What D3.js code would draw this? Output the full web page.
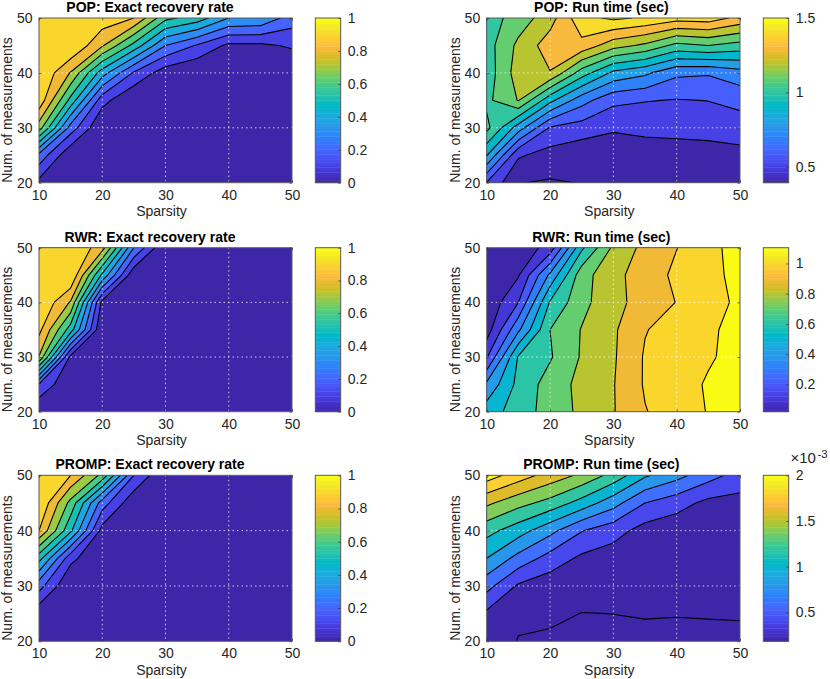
<!DOCTYPE html>
<html><head><meta charset="utf-8">
<script src="https://cdnjs.cloudflare.com/ajax/libs/d3/7.8.5/d3.min.js"></script>
<style>
html,body{margin:0;padding:0;background:#fff}
svg{display:block}
text{font-family:"Liberation Sans",Arial,Helvetica,sans-serif;fill:#262626}
</style></head><body>
<svg id="c" width="830" height="679"></svg>
<script>
const sparsity=[10,15,20,25,30,35,40,45,50];
const measurements=[20,25,30,35,40,45,50];
const xTicks=[10,20,30,40,50];
const yTicks=[20,30,40,50];

// rows: measurements 20..50, columns: sparsity 10..50
const popRate=[
[.07,0,0,0,0,0,0,0,0],
[.27,.012,0,0,0,0,0,0,0],
[.75,.255,0,0,0,0,0,0,0],
[.97,.567,.136,0,0,0,0,0,0],
[1,.793,.447,.187,.042,0,0,0,0],
[1,1,.812,.567,.3,.19,.0775,.08,.114],
[1,1,.96,.9,.625,.555,.4,.385,.25]];
const popTime=[
[.595,.4035,.39,.4035,.42,.425,.43,.43,.44],
[.905,.513,.46,.43,.45,.45,.455,.46,.47],
[1.13,.85,.59,.553,.51,.525,.53,.535,.55],
[1.076,1.205,.93,.74,.625,.605,.595,.602,.63],
[1.042,1.25,1.295,1.05,.875,.82,.72,.71,.76],
[1.057,1.223,1.351,1.37,1.24,1.18,1.07,1.1,1.06],
[1.051,1.145,1.258,1.47,1.518,1.487,1.44,1.45,1.372]];
const rwrRate=[
[0,0,0,0,0,0,0,0,0],
[.195,0,0,0,0,0,0,0,0],
[.795,.07,0,0,0,0,0,0,0],
[.93,.55,0,0,0,0,0,0,0],
[1,.79,.07,0,0,0,0,0,0],
[1,1,.48,.02,0,0,0,0,0],
[1,1,.844,.3,0,0,0,0,0]];
const rwrTime=[
[.55,.647,.743,.822,.894,.995,1.05,1.105,1.14],
[.42,.63,.742,.83,.895,1.01,1.06,1.11,1.15],
[.19,.61,.69,.81,.888,1.01,1.05,1.09,1.13],
[.05,.38,.70,.805,.885,.995,1.04,1.085,1.13],
[.02,.2,.61,.77,.87,.94,1.003,1.06,1.12],
[.02,.09,.42,.76,.87,.95,1.02,1.07,1.13],
[.02,.03,.14,.58,.82,.93,.998,1.07,1.14]];
const prompRate=[
[0,0,0,0,0,0,0,0,0],
[.03,0,0,0,0,0,0,0,0],
[.24,0,0,0,0,0,0,0,0],
[.54,.13,0,0,0,0,0,0,0],
[.9,.52,.06,0,0,0,0,0,0],
[1,.667,.25,.023,0,0,0,0,0],
[1,.9,.67,.2,0,0,0,0,0]];
const prompTime=[
[.28,.195,.18,.18,.18,.18,.18,.18,.18],
[.36,.22,.223,.198,.2005,.205,.203,.205,.207],
[.67,.37,.28,.25,.24,.23,.225,.215,.21],
[1.0,.73,.52,.36,.30,.27,.25,.235,.225],
[1.27,1.09,.86,.61,.48,.32,.27,.26,.26],
[1.64,1.47,1.33,1.12,.88,.6,.48,.347,.33],
[2.1,1.9,1.72,1.56,1.33,1.03,.87,.68,.52]];

const levelsRate=[.1,.2,.3,.4,.5,.6,.7,.8,.9];
const levelsPopTime=[.4,.5,.6,.7,.8,.9,1,1.1,1.2,1.3,1.4,1.5];
const levelsRwrTime=[.1,.2,.3,.4,.5,.6,.7,.8,.9,1,1.1];
const levelsPrompTime=[.2,.4,.6,.8,1,1.2,1.4,1.6,1.8,2];

const ticksRate=[0,.2,.4,.6,.8,1];
const ticksPopTime=[.5,1,1.5];
const ticksRwrTime=[.2,.4,.6,.8,1];
const ticksPrompTime=[.5,1,1.5,2];

const titles=["POP: Exact recovery rate","POP: Run time (sec)","RWR: Exact recovery rate","RWR: Run time (sec)","PROMP: Exact recovery rate","PROMP: Run time (sec)"];
const xLabel="Sparsity", yLabel="Num. of measurements";

const parulaMap=[[.2422,.1504,.6603],[.2504,.165,.7076],[.2578,.1818,.7511],[.2647,.1978,.7952],[.2706,.2147,.8364],[.2751,.2342,.871],[.2783,.2559,.8991],[.2803,.2782,.9221],[.2813,.3006,.9414],[.281,.3228,.9579],[.2795,.3447,.9717],[.276,.3667,.9829],[.2699,.3892,.9906],[.2602,.4123,.9952],[.244,.4358,.9988],[.2206,.4603,.9973],[.1963,.4847,.9892],[.1834,.5074,.9798],[.1786,.5289,.9682],[.1764,.5499,.952],[.1687,.5703,.9359],[.154,.5902,.9218],[.146,.6091,.9079],[.138,.6276,.8973],[.1248,.6459,.8883],[.1113,.6635,.8763],[.0952,.6798,.8598],[.0689,.6948,.8394],[.0297,.7082,.8163],[.0036,.7203,.7917],[.0067,.7312,.766],[.0433,.7411,.7394],[.0964,.75,.712],[.1408,.7584,.6842],[.1717,.767,.6554],[.1938,.7758,.6251],[.2161,.7843,.5923],[.247,.7918,.5567],[.2906,.7973,.5188],[.3406,.8008,.4789],[.3909,.8029,.4354],[.4456,.8024,.3909],[.5044,.7993,.348],[.5616,.7942,.3045],[.6174,.7876,.2612],[.672,.7793,.2227],[.7242,.7698,.191],[.7738,.7598,.1646],[.8203,.7498,.1535],[.8634,.7406,.1596],[.9035,.733,.1774],[.9393,.7288,.21],[.9728,.7298,.2394],[.9956,.7434,.2371],[.997,.7659,.2199],[.9952,.7893,.2028],[.9892,.8136,.1885],[.9786,.8386,.1766],[.9676,.8639,.1643],[.961,.889,.1537],[.9597,.9135,.1423],[.9628,.9373,.1265],[.9691,.9606,.1064],[.9769,.9839,.0805]];
const parula=t=>{const i=Math.max(0,Math.min(63,Math.floor(t*64)));const c=parulaMap[i];return d3.rgb(c[0]*255,c[1]*255,c[2]*255).formatHex();};

const lefts=[39,486.7], rights=[292,740], tops=[18,247.7,475.3], bottoms=[182.7,411.7,641.3];
const cbL=[315.3,763.3], cbR=[340.7,788.7];
const titleOff=[-15.5,-12], axisColor="#5a5a5a";

const panels=[
 {row:0,col:0,z:popRate,levels:levelsRate,dom:[0,1],cbt:ticksRate},
 {row:0,col:1,z:popTime,levels:levelsPopTime,dom:[.393,1.5],cbt:ticksPopTime},
 {row:1,col:0,z:rwrRate,levels:levelsRate,dom:[0,1],cbt:ticksRate},
 {row:1,col:1,z:rwrTime,levels:levelsRwrTime,dom:[.02,1.104],cbt:ticksRwrTime},
 {row:2,col:0,z:prompRate,levels:levelsRate,dom:[0,1],cbt:ticksRate},
 {row:2,col:1,z:prompTime,levels:levelsPrompTime,dom:[.182,2],cbt:ticksPrompTime,exp:true}];

const svg=d3.select("#c");
const fs=14;
function styleAxis(g){
  g.select(".domain").remove();
  g.selectAll(".tick line").attr("stroke","#333").attr("stroke-width",.7);
  g.selectAll("text").style("font-size",fs+"px").attr("fill","#262626");
}
panels.forEach((p,idx)=>{
  const L=lefts[p.col],R=rights[p.col],T=tops[p.row],B=bottoms[p.row];
  const x=d3.scaleLinear().domain([10,50]).range([L,R]);
  const y=d3.scaleLinear().domain([20,50]).range([B,T]);
  const cn=d3.scaleLinear().domain(p.dom).range([0,1]);
  const colour=v=>parula(cn(v));
  const clipId="clip"+idx;
  svg.append("clipPath").attr("id",clipId).append("rect").attr("x",L).attr("y",T).attr("width",R-L).attr("height",B-T);
  const g=svg.append("g").attr("clip-path",`url(#${clipId})`);
  g.append("rect").attr("x",L).attr("y",T).attr("width",R-L).attr("height",B-T).attr("fill",parula(0));
  const nx=sparsity.length,ny=measurements.length;
  const stepX=sparsity[1]-sparsity[0],stepY=measurements[1]-measurements[0];
  const path=d3.geoPath(d3.geoTransform({point(a,b){
    this.stream.point(x(sparsity[0]+(a-.5)*stepX),y(measurements[0]+(b-.5)*stepY));
  }}));
  const cs=d3.contours().size([nx,ny]).smooth(true).thresholds(p.levels)(p.z.flat());
  g.selectAll("path").data(cs).join("path")
    .attr("d",path).attr("fill",d=>colour(d.value))
    .attr("stroke","#000").attr("stroke-width",1.1).attr("stroke-linejoin","round");
  // dotted grid
  const gridG=svg.append("g").attr("stroke","#fff").attr("stroke-opacity",.75).attr("stroke-width",1).attr("stroke-dasharray","1.5 3");
  gridG.selectAll(".gx").data(xTicks.slice(1,-1)).join("line").attr("x1",x).attr("x2",x).attr("y1",T).attr("y2",B);
  gridG.selectAll(".gy").data(yTicks.slice(1,-1)).join("line").attr("y1",y).attr("y2",y).attr("x1",L).attr("x2",R);
  // box + axes
  svg.append("rect").attr("x",L).attr("y",T).attr("width",R-L).attr("height",B-T).attr("fill","none").attr("stroke",axisColor).attr("stroke-width",1);
  svg.append("g").attr("transform",`translate(0,${B})`).call(d3.axisBottom(x).tickValues(xTicks).tickSize(-2.5).tickPadding(5).tickFormat(d3.format("d"))).call(styleAxis)
     .selectAll("text").attr("y",7).attr("dy","0.71em");
  svg.append("g").attr("transform",`translate(0,${T})`).call(d3.axisTop(x).tickValues(xTicks).tickSize(-2.5).tickFormat("")).call(styleAxis);
  svg.append("g").attr("transform",`translate(${L},0)`).call(d3.axisLeft(y).tickValues(yTicks).tickSize(-2.5).tickPadding(6).tickFormat(d3.format("d"))).call(styleAxis)
     .selectAll("text").attr("x",-6.5);
  svg.append("g").attr("transform",`translate(${R},0)`).call(d3.axisRight(y).tickValues(yTicks).tickSize(-2.5).tickFormat("")).call(styleAxis);
  // text
  svg.append("text").attr("x",(L+R)/2+titleOff[p.col]).attr("y",T-6).attr("text-anchor","middle").style("font-size",fs+"px").style("font-weight","bold").style("fill","#000").text(titles[idx]);
  svg.append("text").attr("x",(L+R)/2-4).attr("y",B+33.5).attr("text-anchor","middle").style("font-size",fs+"px").text(xLabel);
  const ym=(T+B)/2+9.7, xm=L-32;
  svg.append("text").attr("transform",`translate(${xm},${ym}) rotate(-90)`).attr("dy","0.35em").attr("text-anchor","middle").style("font-size",fs+"px").text(yLabel);
  // colourbar
  const cl=cbL[p.col],cr=cbR[p.col];
  const cy=d3.scaleLinear().domain(p.dom).range([B,T]);
  const bar=d3.range(64);
  const bh=(B-T)/64;
  svg.append("g").selectAll("rect").data(bar).join("rect")
    .attr("x",cl).attr("width",cr-cl)
    .attr("y",i=>B-(i+1)*bh).attr("height",bh+.4)
    .attr("fill",i=>parula((i+.5)/64));
  svg.append("rect").attr("x",cl).attr("y",T).attr("width",cr-cl).attr("height",B-T).attr("fill","none").attr("stroke",axisColor).attr("stroke-width",1);
  svg.append("g").attr("transform",`translate(${cr},0)`).call(d3.axisRight(cy).tickValues(p.cbt).tickSize(-2.5).tickPadding(7).tickFormat(d3.format("~g"))).call(styleAxis);
  if(p.exp){
    svg.append("text").attr("x",790.5).attr("y",T-12).style("font-size","15px").text("×10");
    svg.append("text").attr("x",817.5).attr("y",T-17.5).style("font-size","11.5px").text("-3");
  }
});
</script>
</body></html>
